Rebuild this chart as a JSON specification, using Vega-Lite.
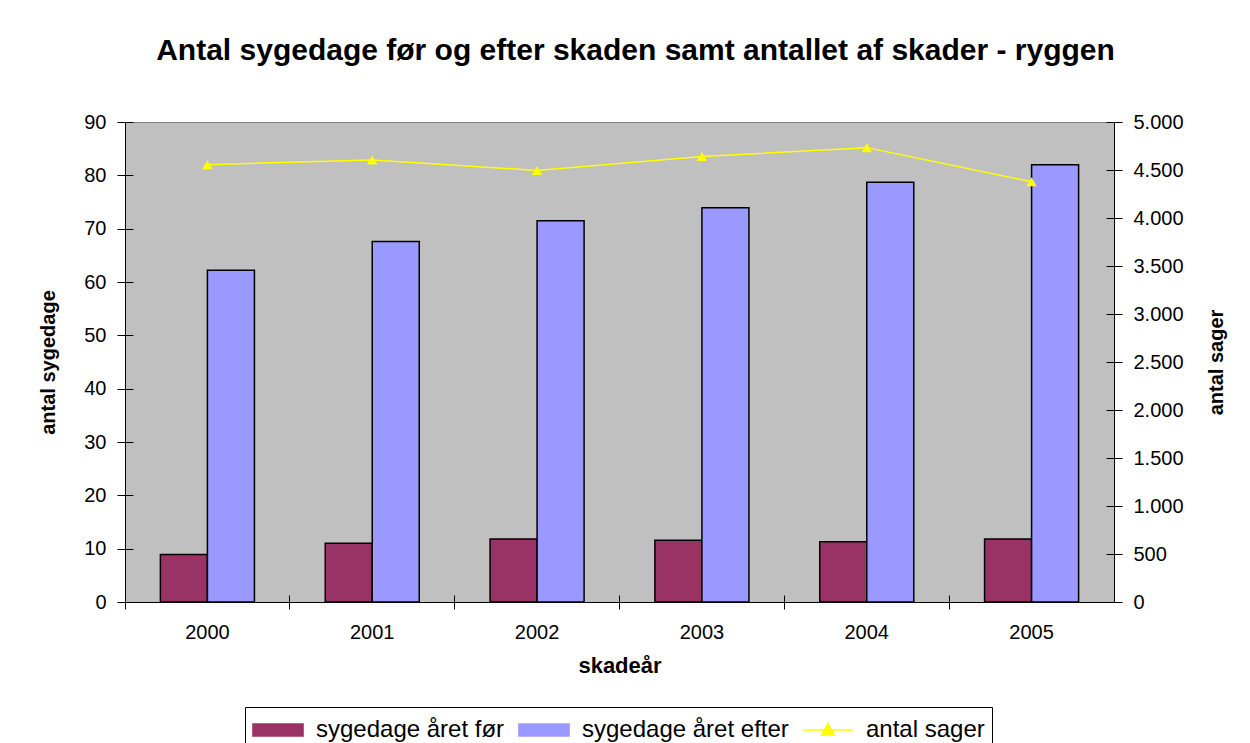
{
  "$schema": "https://vega.github.io/schema/vega-lite/v6.json",
  "width": 989,
  "height": 480,
  "autosize": "none",
  "padding": {"left": 125, "top": 122, "right": 136, "bottom": 141},
  "background": "white",
  "title": {
    "text": "Antal sygedage før og efter skaden samt antallet af skader - ryggen",
    "anchor": "middle",
    "dx": 16,
    "offset": 22,
    "baseline": "alphabetic",
    "font": "Liberation Sans",
    "fontSize": 30,
    "fontWeight": "bold",
    "color": "black"
  },
  "config": {
    "locale": {"number": {"decimal": ",", "thousands": ".", "grouping": [3], "currency": ["", " kr."]}},
    "view": {"fill": "#C0C0C0", "stroke": "#808080", "strokeWidth": 1},
    "axis": {
      "grid": false,
      "domainColor": "black",
      "tickColor": "black",
      "labelColor": "black",
      "titleColor": "black",
      "labelFont": "Liberation Sans",
      "titleFont": "Liberation Sans",
      "labelFontSize": 20,
      "titleFontSize": 20,
      "titleFontWeight": "bold"
    },
    "legend": {
      "title": null,
      "orient": "none",
      "legendX": 120,
      "legendY": 585,
      "direction": "horizontal",
      "strokeColor": "black",
      "fillColor": "white",
      "padding": 7,
      "labelFont": "Liberation Sans",
      "labelFontSize": 24,
      "labelColor": "black",
      "labelLimit": 0,
      "labelOffset": 22,
      "symbolOffset": 10,
      "columnPadding": 10,
      "symbolSize": 900,
      "symbolStrokeColor": "black",
      "symbolStrokeWidth": 1.5
    }
  },
  "datasets": {
    "bars": [
      {"år": "2000", "serie": "sygedage året før", "dage": 8.9},
      {"år": "2000", "serie": "sygedage året efter", "dage": 62.2},
      {"år": "2001", "serie": "sygedage året før", "dage": 11.0},
      {"år": "2001", "serie": "sygedage året efter", "dage": 67.6},
      {"år": "2002", "serie": "sygedage året før", "dage": 11.8},
      {"år": "2002", "serie": "sygedage året efter", "dage": 71.5},
      {"år": "2003", "serie": "sygedage året før", "dage": 11.6},
      {"år": "2003", "serie": "sygedage året efter", "dage": 73.9},
      {"år": "2004", "serie": "sygedage året før", "dage": 11.3},
      {"år": "2004", "serie": "sygedage året efter", "dage": 78.7},
      {"år": "2005", "serie": "sygedage året før", "dage": 11.8},
      {"år": "2005", "serie": "sygedage året efter", "dage": 82.0}
    ],
    "sager": [
      {"år": "2000", "sager": 4555},
      {"år": "2001", "sager": 4605},
      {"år": "2002", "sager": 4495},
      {"år": "2003", "sager": 4640},
      {"år": "2004", "sager": 4733},
      {"år": "2005", "sager": 4378}
    ]
  },
  "layer": [
    {
      "data": {"name": "bars"},
      "mark": {"type": "bar", "opacity": 0},
      "encoding": {
        "x": {
          "field": "år", "type": "nominal",
          "scale": {"paddingInner": 0, "paddingOuter": 0},
          "axis": {
            "orient": "bottom",
            "title": null,
            "labels": false,
            "domain": false,
            "bandPosition": 0,
            "tickSize": -7
          }
        },
        "xOffset": {
          "field": "serie", "type": "nominal",
          "scale": {"domain": ["sygedage året før", "sygedage året efter"], "paddingInner": 0, "paddingOuter": 0.753}
        },
        "y": {
          "field": "dage", "type": "quantitative",
          "scale": {"domain": [0, 90], "nice": false},
          "axis": {
            "orient": "left",
            "title": null,
            "labels": false,
            "domain": false,
            "values": [10, 20, 30, 40, 50, 60, 70, 80, 90],
            "tickSize": -8
          }
        }
      }
    },
    {
      "data": {"name": "sager"},
      "mark": {"type": "line", "opacity": 0},
      "encoding": {
        "x": {"field": "år", "type": "nominal", "axis": null},
        "y": {
          "field": "sager", "type": "quantitative",
          "scale": {"domain": [0, 5000], "nice": false},
          "axis": {
            "orient": "right",
            "title": null,
            "labels": false,
            "domain": false,
            "values": [500, 1000, 1500, 2000, 2500, 3000, 3500, 4000, 4500, 5000],
            "tickSize": -8
          }
        }
      }
    },
    {
      "data": {"name": "bars"},
      "mark": {"type": "bar", "stroke": "black", "strokeWidth": 1.5},
      "encoding": {
        "x": {
          "field": "år", "type": "nominal",
          "axis": {
            "orient": "bottom",
            "title": "skadeår",
            "labelAngle": 0,
            "bandPosition": 0,
            "tickSize": 7,
            "labelPadding": 13,
            "titlePadding": 13,
            "titleFontSize": 22
          }
        },
        "xOffset": {
          "field": "serie", "type": "nominal",
          "sort": ["sygedage året før", "sygedage året efter"],
          "scale": {"domain": ["sygedage året før", "sygedage året efter"], "paddingInner": 0, "paddingOuter": 0.753}
        },
        "y": {
          "field": "dage", "type": "quantitative",
          "scale": {"domain": [0, 90], "nice": false},
          "axis": {
            "title": "antal sygedage",
            "orient": "left",
            "values": [0, 10, 20, 30, 40, 50, 60, 70, 80, 90],
            "tickSize": 8,
            "labelPadding": 11,
            "titlePadding": 25
          }
        },
        "color": {
          "field": "serie", "type": "nominal",
          "scale": {
            "domain": ["sygedage året før", "sygedage året efter", "antal sager"],
            "range": ["#993366", "#9999FF", "#FFFF00"]
          },
          "legend": {
            "encode": {
              "symbols": {
                "update": {
                  "shape": {"signal": "datum.value === 'antal sager' ? 'M-1.67,0H1.67M0,-0.43L0.43,0.33L-0.43,0.33Z' : 'M-1.67,-0.4H1.67V0.4H-1.67Z'"},
                  "fill": {"scale": "color", "field": "value"},
                  "stroke": {"signal": "datum.value === 'antal sager' ? '#FFFF00' : '#000000'"},
                  "strokeWidth": {"value": 1.5},
                  "opacity": {"value": 1},
                  "fillOpacity": {"value": 1}
                }
              }
            }
          }
        }
      }
    },
    {
      "data": {"name": "sager"},
      "mark": {
        "type": "line",
        "strokeWidth": 1.5,
        "point": {"shape": "triangle-up", "size": 110, "filled": true, "opacity": 1}
      },
      "encoding": {
        "x": {"field": "år", "type": "nominal", "axis": null},
        "y": {
          "field": "sager", "type": "quantitative",
          "scale": {"domain": [0, 5000], "nice": false},
          "axis": {
            "title": "antal sager",
            "orient": "right",
            "format": ",d",
            "values": [0, 500, 1000, 1500, 2000, 2500, 3000, 3500, 4000, 4500, 5000],
            "tickSize": 8,
            "labelPadding": 11,
            "titleAngle": -90,
            "titlePadding": 43
          }
        },
        "color": {
          "datum": "antal sager",
          "legend": {
            "encode": {
              "symbols": {
                "update": {
                  "shape": {"signal": "datum.value === 'antal sager' ? 'M-1.67,0H1.67M0,-0.43L0.43,0.33L-0.43,0.33Z' : 'M-1.67,-0.4H1.67V0.4H-1.67Z'"},
                  "fill": {"scale": "color", "field": "value"},
                  "stroke": {"signal": "datum.value === 'antal sager' ? '#FFFF00' : '#000000'"},
                  "strokeWidth": {"value": 1.5},
                  "opacity": {"value": 1},
                  "fillOpacity": {"value": 1}
                }
              }
            }
          }
        }
      }
    }
  ],
  "resolve": {"scale": {"y": "independent"}, "axis": {"y": "independent", "x": "independent"}}
}
